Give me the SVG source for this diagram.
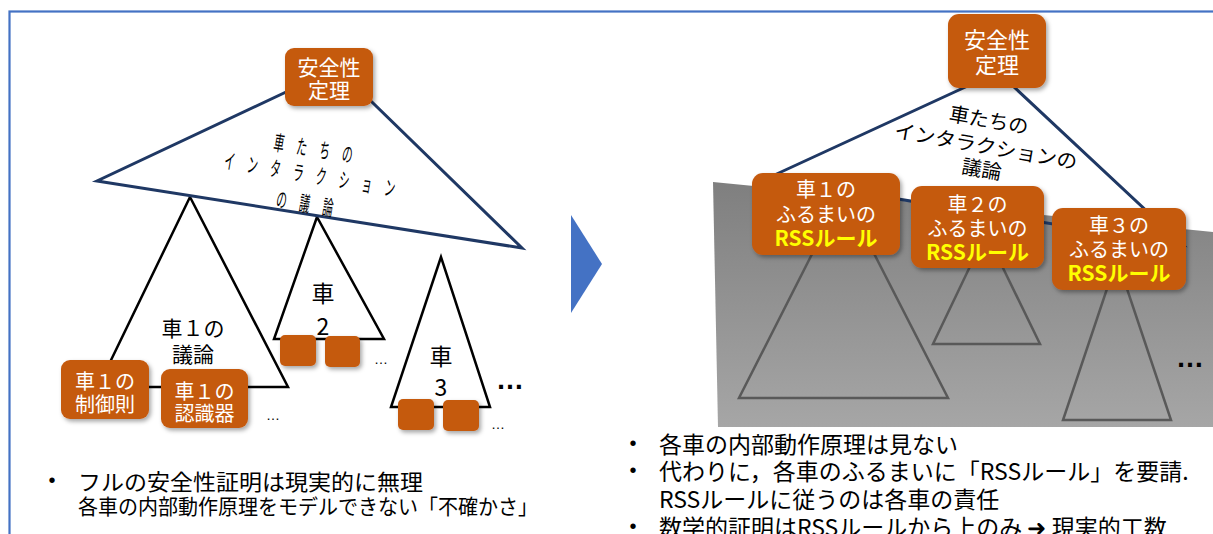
<svg xmlns="http://www.w3.org/2000/svg" width="1213" height="534" viewBox="0 0 1213 534">
<defs>
<style>
text{font-family:"Noto Sans CJK JP","Noto Sans",sans-serif;}
.box{fill:#C55A11;filter:url(#sh);}
.wt{fill:#fff;text-anchor:middle;dominant-baseline:central;}
.rss{fill:#FFFF00;font-weight:bold;font-size:21px;text-anchor:middle;dominant-baseline:central;}
.bk{fill:#000;text-anchor:middle;dominant-baseline:central;}
.rot{fill:#000;font-size:21px;text-anchor:middle;dominant-baseline:central;}
.bul{fill:#000;dominant-baseline:central;}
.bd{fill:#000;font-family:"Liberation Sans",sans-serif;font-size:20px;text-anchor:middle;dominant-baseline:central;}
.dot{fill:#000;font-family:"Liberation Sans",sans-serif;text-anchor:middle;}
.navy{fill:none;stroke:#1F3864;stroke-width:3;stroke-linejoin:miter;}
.blk{fill:#fff;stroke:#000;stroke-width:2.5;}
.gtri{fill:none;stroke:#595959;stroke-width:2.5;}
</style>
<filter id="sh" x="-20%" y="-20%" width="150%" height="150%">
<feDropShadow dx="2" dy="2.5" stdDeviation="2" flood-color="#000" flood-opacity="0.35"/>
</filter>
<linearGradient id="gray" gradientUnits="userSpaceOnUse" x1="0" y1="182" x2="0" y2="427">
<stop offset="0" stop-color="#7f7f7f"/>
<stop offset="1" stop-color="#a6a6a6"/>
</linearGradient>
</defs>

<rect x="9.5" y="11.5" width="1300" height="600" fill="none" stroke="#4472C4" stroke-width="2.2"/>

<polygon id="gray-area" points="713,182 1213,232 1213,427 718,427" fill="url(#gray)"/>

<g id="connectors">
<polygon class="blk" points="190,197 98,387 288,387"/>
<polygon class="blk" points="317,217 274,339 384,339"/>
<polygon class="blk" points="441,257 391,407 490,407"/>
<polygon class="navy" points="337,68 97,181 522,248" style="fill:#fff"/>
<polygon class="gtri" points="843,193 739,398 948,398"/>
<polygon class="gtri" points="986,233 933,344 1040,344"/>
<polygon class="gtri" points="1117,259 1063,420 1171,420"/>
<polyline class="navy" points="768,178 998,72 1183,245 768,178"/>
</g>

<polygon id="arrow" points="571,215 602,264 571,313" fill="#4472C4"/>

<g id="left-interaction-label">
<text class="rot" transform="translate(313.5,147.5) rotate(9.5) scale(0.5,1)" x="-69 -23 23 69" y="0">車たちの</text>
<text class="rot" transform="translate(310,173.5) rotate(9.5) scale(0.5,1)" x="-162.4 -116 -69.6 -23.2 23.2 69.6 116 162.4" y="0">インタラクション</text>
<text class="rot" transform="translate(305,202.5) rotate(9.5) scale(0.5,1)" x="-46.8 0 46.8" y="0">の議論</text>
</g>

<g id="left-theorem">
<rect class="box" x="285" y="48" width="88" height="58" rx="9"/>
<text class="wt" x="329" y="66" font-size="21">安全性</text>
<text class="wt" x="329" y="89" font-size="21">定理</text>
</g>

<g id="car1-arg">
<text class="bk" x="193" y="327" font-size="21">車１の</text>
<text class="bk" x="193" y="353" font-size="21">議論</text>
</g>

<g id="car1-control">
<rect class="box" x="61" y="360" width="88" height="59" rx="9"/>
<text class="wt" x="105" y="380" font-size="20">車１の</text>
<text class="wt" x="105" y="403" font-size="20">制御則</text>
</g>

<g id="car1-percept">
<rect class="box" x="161" y="369" width="87" height="59" rx="9"/>
<text class="wt" x="204.5" y="390" font-size="20">車１の</text>
<text class="wt" x="204.5" y="412" font-size="20">認識器</text>
</g>
<text class="dot" x="273" y="420" font-size="14">…</text>

<g id="car2">
<text class="bk" x="323" y="292" font-size="23">車</text>
<text class="bk" x="323" y="325" font-size="23">2</text>
<rect class="box" x="280" y="335" width="36" height="31" rx="5"/>
<rect class="box" x="325" y="336" width="35" height="31" rx="5"/>
<text class="dot" x="381" y="364" font-size="14">…</text>
</g>

<g id="car3">
<text class="bk" x="441" y="355" font-size="23">車</text>
<text class="bk" x="441" y="386" font-size="23">3</text>
<rect class="box" x="398" y="399" width="36" height="31" rx="5"/>
<rect class="box" x="443" y="400" width="36" height="31" rx="5"/>
<text class="dot" x="498" y="429" font-size="14">…</text>
</g>
<text class="dot" x="510" y="389" font-size="28" font-weight="bold">…</text>

<g id="left-bullets">
<text class="bd" x="52" y="480">•</text>
<text class="bul" x="78" y="480" font-size="22" textLength="345" lengthAdjust="spacingAndGlyphs">フルの安全性証明は現実的に無理</text>
<text class="bul" x="78" y="505" font-size="21" textLength="460" lengthAdjust="spacingAndGlyphs">各車の内部動作原理をモデルできない「不確かさ」</text>
</g>

<g id="right-interaction-label">
<text class="bk" transform="translate(989,119) rotate(10)" x="0" y="0" font-size="20">車たちの</text>
<text class="bk" transform="translate(986,145) rotate(10)" x="0" y="0" font-size="20" textLength="185" lengthAdjust="spacingAndGlyphs">インタラクションの</text>
<text class="bk" transform="translate(982,168) rotate(10)" x="0" y="0" font-size="20">議論</text>
</g>

<g id="right-theorem">
<rect class="box" x="948" y="14" width="98" height="74" rx="11"/>
<text class="wt" x="997" y="38" font-size="22">安全性</text>
<text class="wt" x="997" y="63" font-size="22">定理</text>
</g>

<g id="rss1">
<rect class="box" x="752" y="173" width="148" height="82" rx="11"/>
<text class="wt" x="826" y="188" font-size="20">車１の</text>
<text class="wt" x="826" y="213" font-size="20">ふるまいの</text>
<text class="rss" x="826" y="237">RSSルール</text>
</g>

<g id="rss2">
<rect class="box" x="911" y="186" width="133" height="82" rx="11"/>
<text class="wt" x="977.5" y="203" font-size="20">車２の</text>
<text class="wt" x="977.5" y="227" font-size="20">ふるまいの</text>
<text class="rss" x="977.5" y="251">RSSルール</text>
</g>

<g id="rss3">
<rect class="box" x="1052" y="208" width="134" height="82" rx="11"/>
<text class="wt" x="1119" y="224" font-size="20">車３の</text>
<text class="wt" x="1119" y="248" font-size="20">ふるまいの</text>
<text class="rss" x="1119" y="272">RSSルール</text>
</g>
<text class="dot" x="1190" y="367" font-size="28" font-weight="bold">…</text>

<g id="right-bullets">
<text class="bd" x="633" y="443">•</text>
<text class="bul" x="659" y="443" font-size="23">各車の内部動作原理は見ない</text>
<text class="bd" x="633" y="470">•</text>
<text class="bul" x="659" y="470" font-size="23">代わりに，各車のふるまいに「RSSルール」を要請.</text>
<text class="bul" x="659" y="498" font-size="23">RSSルールに従うのは各車の責任</text>
<text class="bd" x="633" y="526">•</text>
<text class="bul" x="659" y="526" font-size="23">数学的証明はRSSルールから上のみ ➜ 現実的工数</text>
</g>
</svg>
